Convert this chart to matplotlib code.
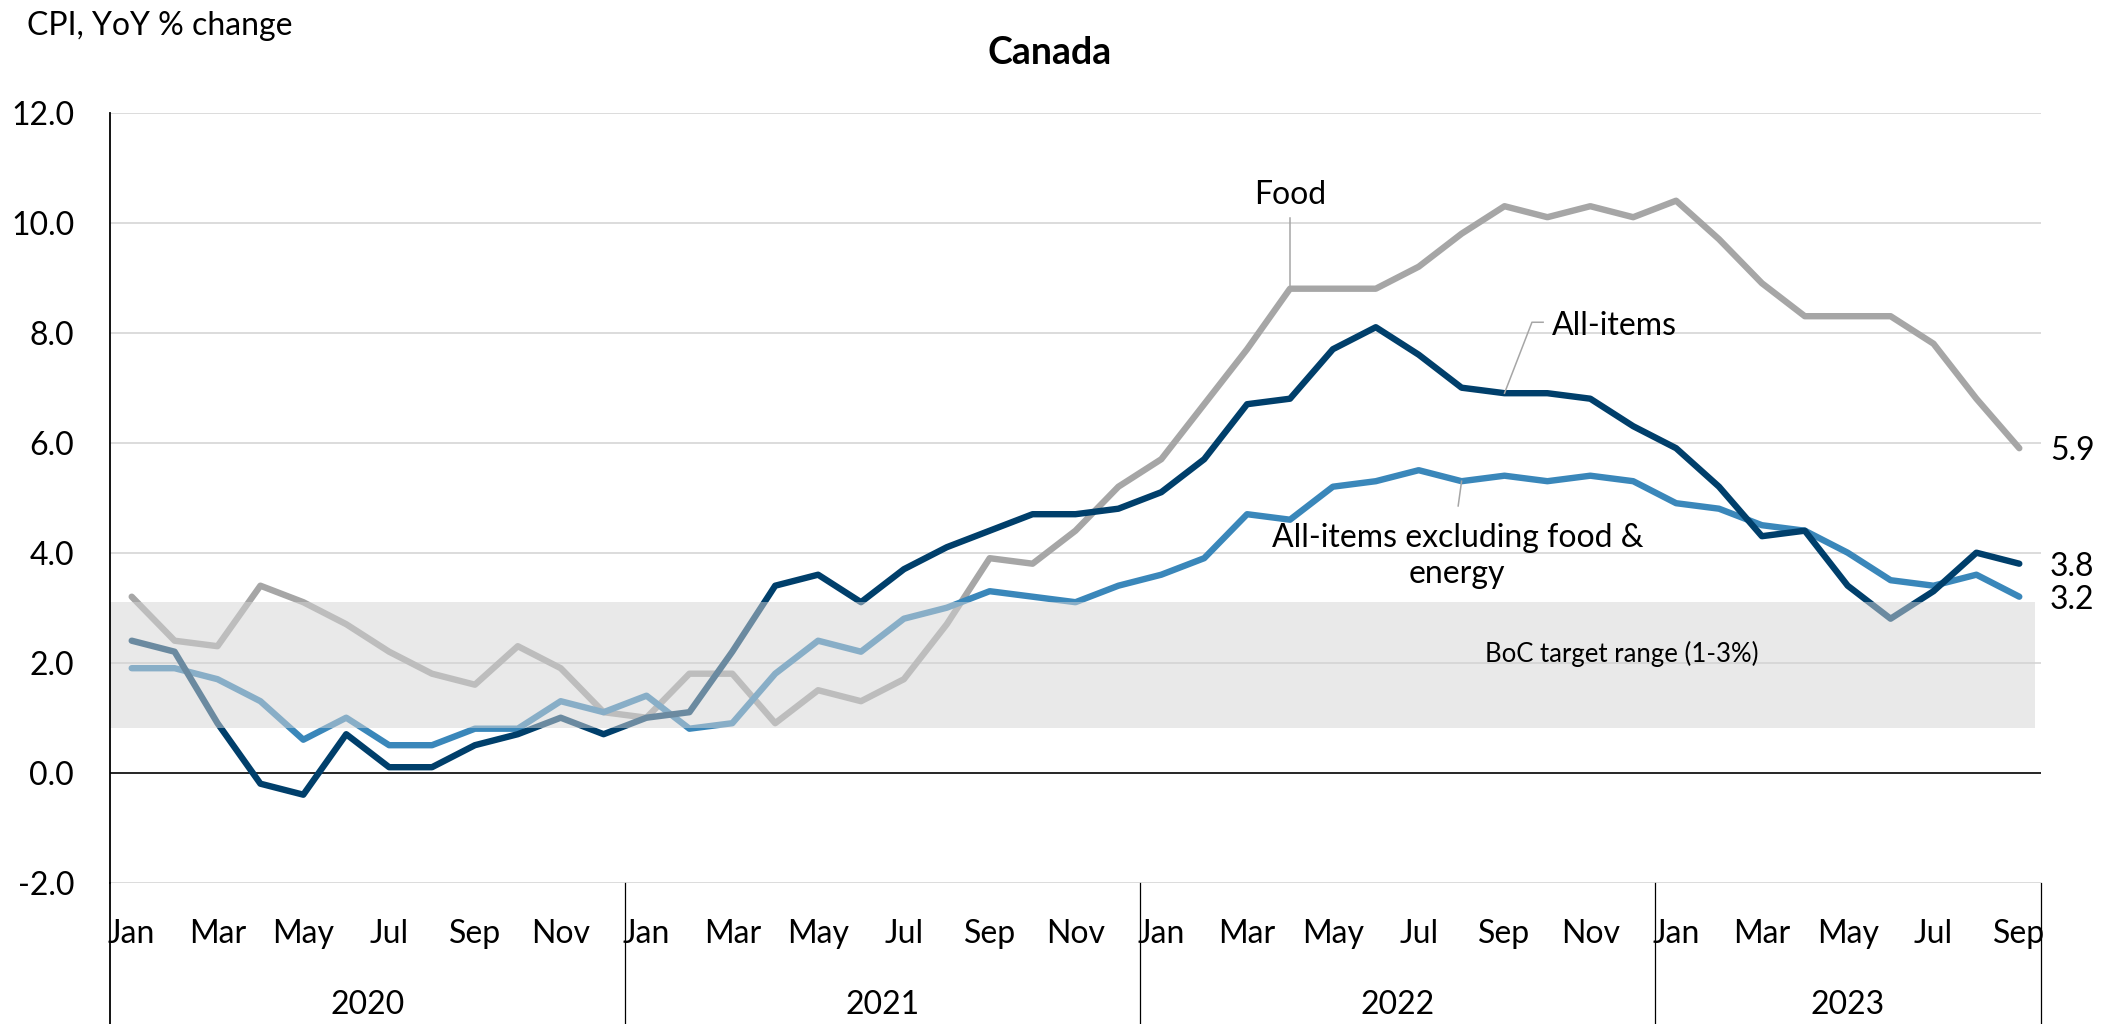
import matplotlib
matplotlib.use("Agg")
import matplotlib.pyplot as plt
import matplotlib.transforms as mtransforms
from matplotlib.patches import Rectangle
import numpy as np

plt.rcParams['font.family'] = ['Lato', 'DejaVu Sans']
plt.rcParams['axes.unicode_minus'] = False

# ---- data -------------------------------------------------------------
years = ['2020', '2021', '2022', '2023']
month_names = ['Jan', 'Feb', 'Mar', 'Apr', 'May', 'Jun',
               'Jul', 'Aug', 'Sep', 'Oct', 'Nov', 'Dec']
months_per_year = [12, 12, 12, 9]

# CPI, year-over-year % change
all_items = [2.4, 2.2, 0.9, -0.2, -0.4, 0.7, 0.1, 0.1, 0.5, 0.7, 1.0, 0.7,
             1.0, 1.1, 2.2, 3.4, 3.6, 3.1, 3.7, 4.1, 4.4, 4.7, 4.7, 4.8,
             5.1, 5.7, 6.7, 6.8, 7.7, 8.1, 7.6, 7.0, 6.9, 6.9, 6.8, 6.3,
             5.9, 5.2, 4.3, 4.4, 3.4, 2.8, 3.3, 4.0, 3.8]
food = [3.2, 2.4, 2.3, 3.4, 3.1, 2.7, 2.2, 1.8, 1.6, 2.3, 1.9, 1.1,
        1.0, 1.8, 1.8, 0.9, 1.5, 1.3, 1.7, 2.7, 3.9, 3.8, 4.4, 5.2,
        5.7, 6.7, 7.7, 8.8, 8.8, 8.8, 9.2, 9.8, 10.3, 10.1, 10.3, 10.1,
        10.4, 9.7, 8.9, 8.3, 8.3, 8.3, 7.8, 6.8, 5.9]
core = [1.9, 1.9, 1.7, 1.3, 0.6, 1.0, 0.5, 0.5, 0.8, 0.8, 1.3, 1.1,
        1.4, 0.8, 0.9, 1.8, 2.4, 2.2, 2.8, 3.0, 3.3, 3.2, 3.1, 3.4,
        3.6, 3.9, 4.7, 4.6, 5.2, 5.3, 5.5, 5.3, 5.4, 5.3, 5.4, 5.3,
        4.9, 4.8, 4.5, 4.4, 4.0, 3.5, 3.4, 3.6, 3.2]

target_low, target_high = 0.82, 3.1
y_ticks = [-2.0, 0.0, 2.0, 4.0, 6.0, 8.0, 10.0, 12.0]

# ---- styling ----------------------------------------------------------
NAVY = '#003F6B'
BLUE = '#3A87BA'
GREY = '#A6A6A6'
GRID = '#D9D9D9'
FS = 23
LW = 4.6

month_labels = []
for n in months_per_year:
    month_labels += month_names[:n]
x = np.arange(len(month_labels))

fig = plt.figure(figsize=(21.17, 10.24), dpi=100)
ax = fig.add_axes([0.05208, 0.13799, 0.96398 - 0.05208, 0.88994 - 0.13799])
ax.set_xlim(-0.5, len(x) - 0.5)
ax.set_ylim(y_ticks[0], y_ticks[-1])

# horizontal gridlines and zero line
for yv in y_ticks:
    if yv == 0:
        continue
    ax.axhline(yv, color=GRID, lw=1.3, zorder=1)
ax.axhline(0, color='black', lw=1.2, zorder=2)

# series
ax.plot(x, food, color=GREY, lw=LW, solid_capstyle='round',
        solid_joinstyle='round', zorder=3)
ax.plot(x, core, color=BLUE, lw=LW, solid_capstyle='round',
        solid_joinstyle='round', zorder=4)
ax.plot(x, all_items, color=NAVY, lw=LW, solid_capstyle='round',
        solid_joinstyle='round', zorder=5)

# BoC target band, semi-transparent on top of the lines
band = Rectangle((-0.5, target_low), len(x) - 0.5 + 0.37,
                 target_high - target_low, facecolor='#D4D4D4',
                 edgecolor='none', alpha=0.51, zorder=6, clip_on=False)
ax.add_patch(band)
ax.text(34.74, 2.01, 'BoC target range (1-3%)', fontsize=18.5,
        ha='center', va='baseline', zorder=7)

# axes styling
for s in ['top', 'right', 'bottom']:
    ax.spines[s].set_visible(False)
ax.spines['left'].set_linewidth(1.3)
ax.spines['left'].set_zorder(8)

ax.set_yticks(y_ticks)
ax.set_yticklabels([f'{v:.1f}' for v in y_ticks], fontsize=FS)
ax.tick_params(axis='y', length=0, pad=26)

tick_idx = x[::2]
ax.set_xticks(tick_idx)
ax.set_xticklabels([month_labels[i] for i in tick_idx], fontsize=FS)
ax.tick_params(axis='x', length=0, pad=26)

# year separators and year labels below the axis
trans = mtransforms.blended_transform_factory(ax.transData, ax.transAxes)
start = 0
bounds = [-0.5]
for yr, n in zip(years, months_per_year):
    centre = start + (n - 1) / 2
    ax.text(centre, -0.170, yr, transform=trans, fontsize=FS,
            ha='center', va='baseline')
    start += n
    bounds.append(start - 0.5)
for b in bounds:
    lw = 1.3 if b == bounds[0] else 0.9
    ax.plot([b, b], [0, -0.19], transform=trans, color='black', lw=lw,
            clip_on=False, zorder=8)

# series labels with leader lines
lead = dict(color=GREY, lw=1.1, zorder=7)
i_food = 27
ax.plot([i_food, i_food], [10.08, food[i_food]], **lead)
ax.text(i_food, 10.34, 'Food', fontsize=FS, ha='center', va='baseline')

i_all = 32
ax.plot([32.9, 32.64, i_all], [8.19, 8.19, all_items[i_all]], **lead)
ax.text(33.11, 7.96, 'All-items', fontsize=FS, ha='left', va='baseline')

i_core = 31
ax.plot([30.92, i_core], [4.85, core[i_core]], **lead)
ax.text(30.9, 4.10, 'All-items excluding food &', fontsize=FS,
        ha='center', va='baseline')
ax.text(30.9, 3.45, 'energy', fontsize=FS, ha='center', va='baseline')

# end-of-series values
for series in (food, all_items, core):
    ax.annotate(f'{series[-1]:.1f}', xy=(x[-1], series[-1]),
                xytext=(22, 0), textcoords='offset points',
                fontsize=FS, ha='left', va='center_baseline',
                annotation_clip=False)

fig.text(27 / 2117, 1 - 35 / 1024, 'CPI, YoY % change', fontsize=23,
         ha='left', va='baseline')
fig.text(1050 / 2117, 1 - 64.5 / 1024, 'Canada', fontsize=27,
         fontweight='bold', ha='center', va='baseline')

fig.savefig('out.png', dpi=100, facecolor='white')
